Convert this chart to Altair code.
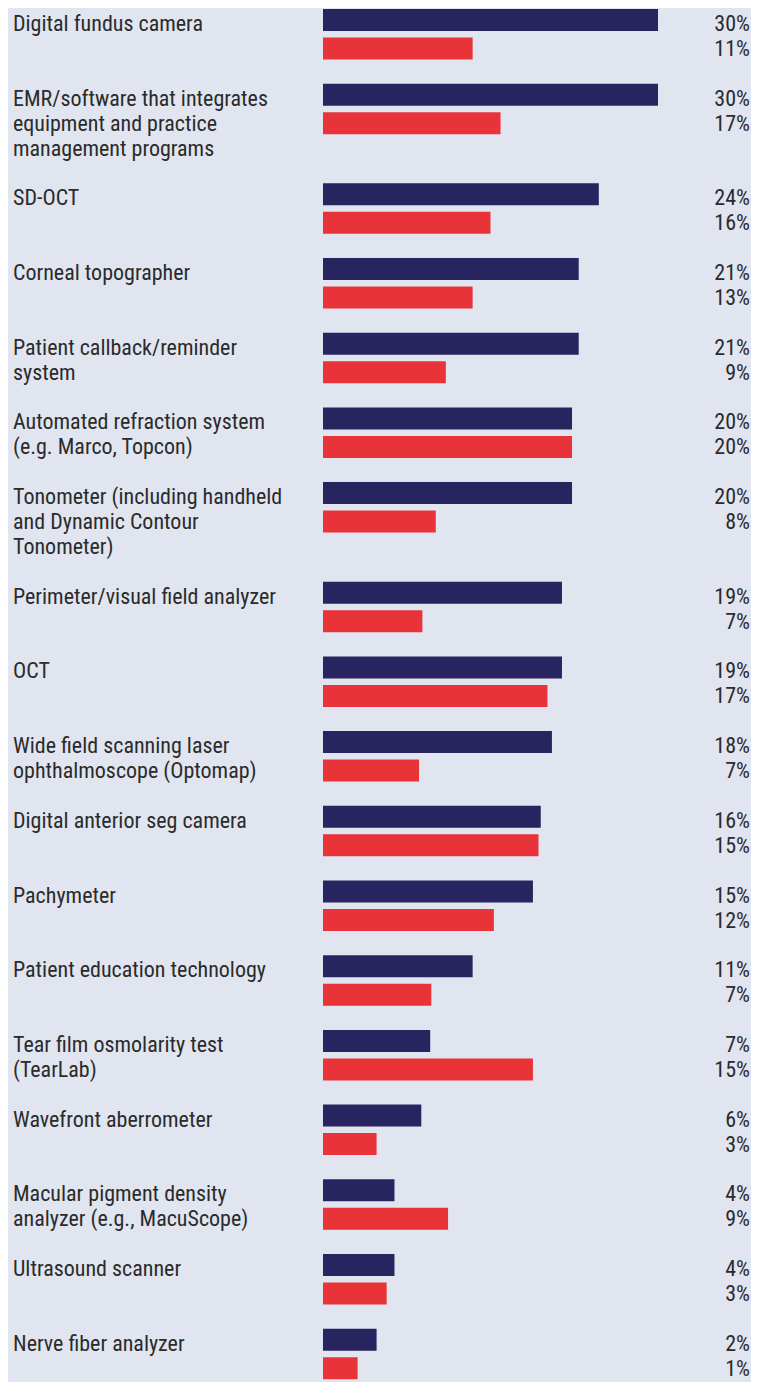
import altair as alt
import pandas as pd

# ---- data ----
labels = [
    ["Digital fundus camera"],
    ["EMR/software that integrates", "equipment and practice", "management programs"],
    ["SD-OCT"],
    ["Corneal topographer"],
    ["Patient callback/reminder", "system"],
    ["Automated refraction system", "(e.g. Marco, Topcon)"],
    ["Tonometer (including handheld", "and Dynamic Contour", "Tonometer)"],
    ["Perimeter/visual field analyzer"],
    ["OCT"],
    ["Wide field scanning laser", "ophthalmoscope (Optomap)"],
    ["Digital anterior seg camera"],
    ["Pachymeter"],
    ["Patient education technology"],
    ["Tear film osmolarity test", "(TearLab)"],
    ["Wavefront aberrometer"],
    ["Macular pigment density", "analyzer (e.g., MacuScope)"],
    ["Ultrasound scanner"],
    ["Nerve fiber analyzer"],
]
pct_navy = [30, 30, 24, 21, 21, 20, 20, 19, 19, 18, 16, 15, 11, 7, 6, 4, 4, 2]
pct_red = [11, 17, 16, 13, 9, 20, 8, 7, 17, 7, 15, 12, 7, 15, 3, 9, 3, 1]
# bar lengths as drawn in the picture (in % units)
bar_navy = [30.0, 30.0, 24.7, 22.9, 22.9, 22.3, 22.3, 21.4, 21.4, 20.5,
            19.5, 18.8, 13.4, 9.6, 8.8, 6.4, 6.4, 4.8]
bar_red = [13.4, 15.9, 15.0, 13.4, 11.0, 22.3, 10.1, 8.9, 20.1, 8.6,
           19.3, 15.3, 9.7, 18.8, 4.8, 11.2, 5.7, 3.1]

NAVY = "#27245f"
RED = "#e83439"
BG = "#e0e5f0"
TXT = "#2b2b2b"
FONT = "Liberation Sans Narrow, Roboto Condensed, DejaVu Sans Condensed, Liberation Sans, sans-serif"

# ---- layout (slot units: one text line ~25 px) ----
W, H = 743, 1374
U = 24.9
D0 = -1 / U
D1 = D0 + H / U

bars, texts, pcts = [], [], []
slot = 0
for i, lines in enumerate(labels):
    top = slot
    bars.append(dict(series="navy", x0=0, value=bar_navy[i], y=top, y2=top + 22 / U))
    bars.append(dict(series="red", x0=0, value=bar_red[i], y=top + 28.5 / U, y2=top + 50.5 / U))
    for j, ln in enumerate(lines):
        texts.append(dict(text=ln, y=top + (22 + 25 * j) / U))
    pcts.append(dict(text=f"{pct_navy[i]}%", y=top + 22 / U))
    pcts.append(dict(text=f"{pct_red[i]}%", y=top + 47 / U))
    slot += max(3, len(lines) + 1)

bars_df = pd.DataFrame(bars)
texts_df = pd.DataFrame(texts)
pcts_df = pd.DataFrame(pcts)

yscale = alt.Scale(domain=[D0, D1], reverse=True, nice=False, zero=False)

bar_layer = alt.Chart(bars_df).mark_rect().encode(
    x=alt.X("x0:Q", scale=alt.Scale(domain=[0, 30], range=[315, 650], nice=False), axis=None),
    x2="value:Q",
    y=alt.Y("y:Q", scale=yscale, axis=None),
    y2="y2:Q",
    color=alt.Color("series:N", scale=alt.Scale(domain=["navy", "red"], range=[NAVY, RED]), legend=None),
)

label_layer = alt.Chart(texts_df).mark_text(
    align="left", baseline="alphabetic", font=FONT, fontSize=22, color=TXT
).encode(
    x=alt.value(5),
    y=alt.Y("y:Q", scale=yscale, axis=None),
    text="text:N",
)

pct_layer = alt.Chart(pcts_df).mark_text(
    align="right", baseline="alphabetic", font=FONT, fontSize=22, color=TXT
).encode(
    x=alt.value(W - 1),
    y=alt.Y("y:Q", scale=yscale, axis=None),
    text="text:N",
)

chart = alt.layer(bar_layer, label_layer, pct_layer).properties(
    width=W, height=H, background=BG, padding=0,
    autosize=alt.AutoSizeParams(type="none"),
).configure_view(stroke=None)

chart.save("out.html", embed_options={"renderer": "svg", "actions": False})
